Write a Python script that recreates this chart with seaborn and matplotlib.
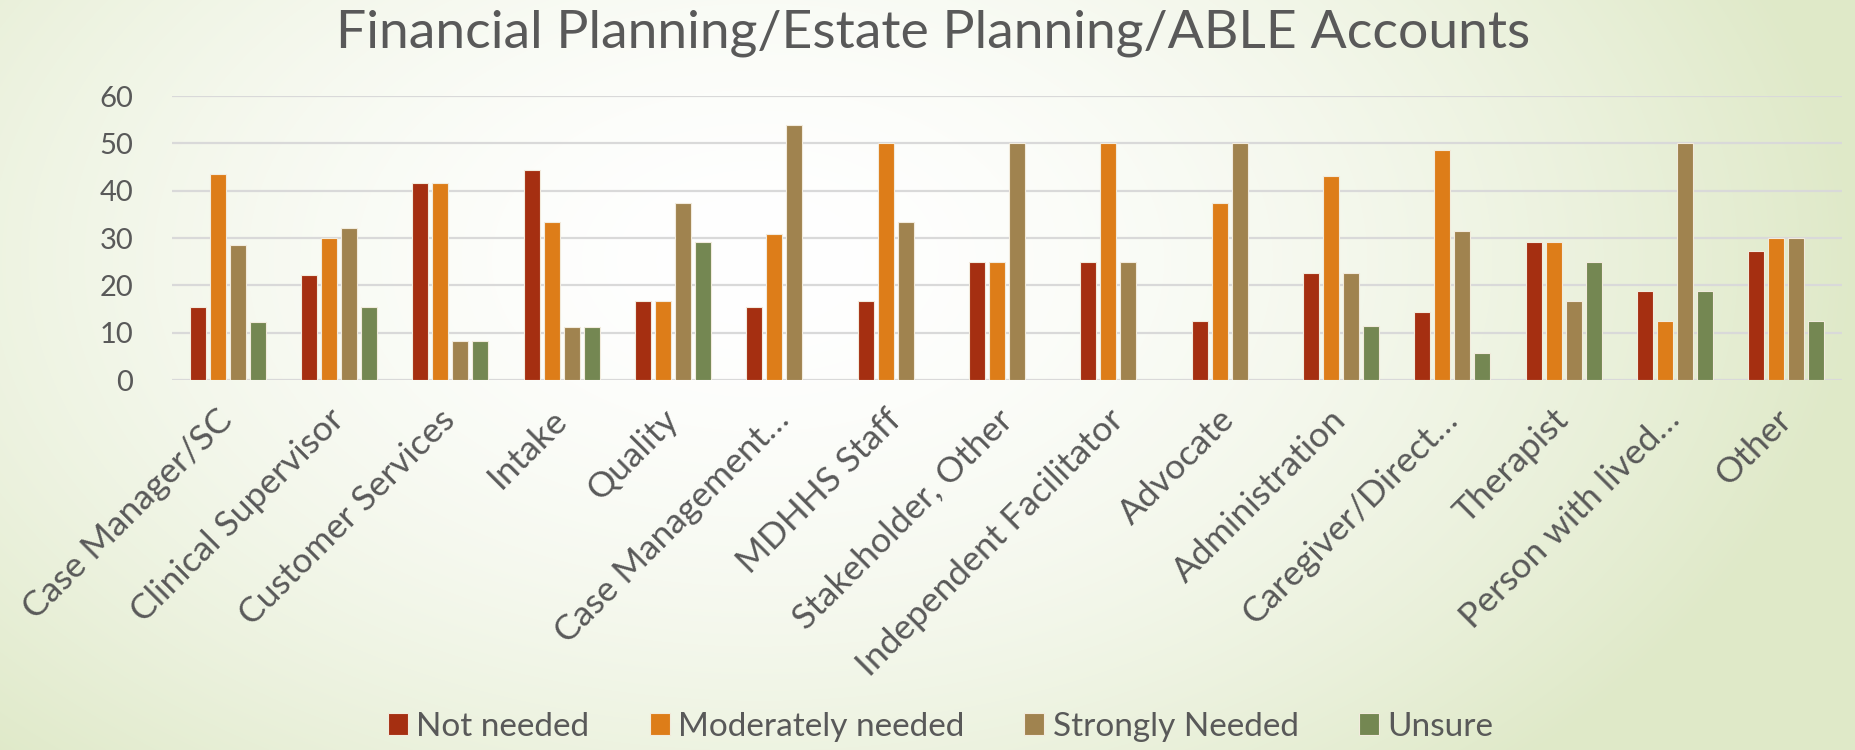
import numpy as np
import pandas as pd
import matplotlib
matplotlib.use("Agg")
import matplotlib.pyplot as plt
import seaborn as sns

categories = ["Case Manager/SC", "Clinical Supervisor", "Customer Services", "Intake",
              "Quality", "Case Management…", "MDHHS Staff", "Stakeholder, Other",
              "Independent Facilitator", "Advocate", "Administration", "Caregiver/Direct…",
              "Therapist", "Person with lived…", "Other"]
not_needed = [15.4, 22.2, 41.7, 44.4, 16.7, 15.4, 16.7, 25.0, 25.0, 12.5, 22.7, 14.3, 29.2, 18.8, 27.3]
moderately_needed = [43.6, 30.0, 41.7, 33.3, 16.7, 30.8, 50.0, 25.0, 50.0, 37.5, 43.2, 48.6, 29.2, 12.5, 30.0]
strongly_needed = [28.6, 32.2, 8.3, 11.1, 37.5, 53.8, 33.3, 50.0, 25.0, 50.0, 22.7, 31.4, 16.7, 50.0, 30.0]
unsure = [12.3, 15.5, 8.3, 11.1, 29.2, 0.0, 0.0, 0.0, 0.0, 0.0, 11.4, 5.7, 25.0, 18.8, 12.5]
series_names = ["Not needed", "Moderately needed", "Strongly Needed", "Unsure"]
colors = ["#A52F11", "#DD7D19", "#A0834F", "#748752"]
y_ticks = [0, 10, 20, 30, 40, 50, 60]
title = "Financial Planning/Estate Planning/ABLE Accounts"

rows = []
for name, vals in zip(series_names, [not_needed, moderately_needed, strongly_needed, unsure]):
    for c, v in zip(categories, vals):
        rows.append({"role": c, "value": v, "level": name})
df = pd.DataFrame(rows)

sns.set_theme(style="white")
plt.rcParams['font.family'] = ['Lato', 'DejaVu Sans']
text_color = "#595959"

W, H = 1855, 750
fig = plt.figure(figsize=(W / 100, H / 100), dpi=100)

# background gradient
yy, xx = np.mgrid[0:H, 0:W]
d = np.sqrt(((xx - 760) / 1100.0) ** 2 + ((yy - 260) / 700.0) ** 2)
t = np.clip(d, 0, 1.2) ** 1.7
t = np.clip(t, 0, 1)
white = np.array([1.0, 1.0, 1.0])
edge = np.array([0xDF, 0xE9, 0xC8]) / 255.0
img = white[None, None, :] * (1 - t[..., None]) + edge[None, None, :] * t[..., None]
bg = fig.add_axes([0, 0, 1, 1], zorder=-10)
bg.imshow(img, aspect="auto", extent=[0, 1, 0, 1], origin="upper")
bg.axis("off")

ax = fig.add_axes([172 / W, 1 - 380 / H, (1842 - 172) / W, (380 - 96) / H])
ax.set_facecolor("none")
sns.barplot(data=df, x="role", y="value", hue="level", palette=colors, saturation=1,
            hue_order=series_names, order=categories, width=0.72, gap=0.2,
            edgecolor="#F2EBDD", linewidth=0.8, ax=ax, errorbar=None)
ax.set_ylim(0, 60)
ax.set_xlim(-0.5, len(categories) - 0.5)
ax.set_yticks(y_ticks)
ax.yaxis.grid(True, color="#D9D9D9", linewidth=1.6)
ax.set_axisbelow(True)
for s in ax.spines.values():
    s.set_visible(False)
ax.set_xlabel("")
ax.set_ylabel("")
ax.tick_params(axis="y", length=0, pad=28, labelsize=21, labelcolor=text_color)
ax.tick_params(axis="x", length=0, pad=25, labelsize=25.5, labelcolor=text_color)
for lab in ax.get_xticklabels():
    lab.set_rotation(45)
    lab.set_ha("right")
    lab.set_rotation_mode("anchor")
    lab.set_va("center")

handles, labels = ax.get_legend_handles_labels()
ax.get_legend().remove()
fig.legend(handles, labels, loc="center", bbox_to_anchor=(0.507, 0.031), ncol=4,
           frameon=False, fontsize=24, labelcolor=text_color, handlelength=0.6,
           handleheight=0.6, handletextpad=0.25, columnspacing=1.8)

fig.text(0.503, 1 - 33 / H, title, ha="center", va="center", fontsize=38.5, color=text_color)

fig.savefig("out.png", dpi=100)
